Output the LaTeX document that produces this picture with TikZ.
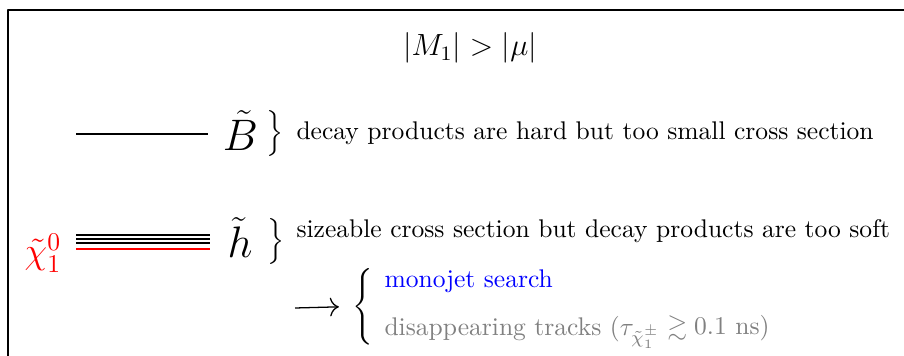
\documentclass[tikz,border=0pt]{standalone}
\usepackage{amsmath,amssymb}
\usetikzlibrary{arrows.meta}
\begin{document}
\begin{tikzpicture}[scale = 0.39,line join=bevel]
%%
\useasboundingbox (0bp,0bp) rectangle (904bp,356bp);
\clip (0bp,0bp) rectangle (904bp,356bp);
\draw [line width=0.8pt] (8bp,346bp) rectangle (940bp,-30bp);
\node (title) at (470bp,308bp) [draw=none] {\large $|M_1| > |\mu|$};
%
\coordinate (bino1) at (76bp,222bp);
  \coordinate (bino2) at (208bp,222bp);
  \node (bino) at (240.5bp,225.5bp) [draw=none] {\LARGE $\tilde{B}$};
  \node (binobrace) at (275.5bp,222.5bp) [draw=none,inner sep=0pt] {$\Big\}$};
  \node (binotext) at (296bp,216bp) [anchor=base west,inner sep=0pt] {decay products are hard but too small cross section};
%
\coordinate (hig1a) at (76bp,121bp);
  \coordinate (hig1b) at (210bp,121bp);
  \coordinate (hig2a) at (76bp,117bp);
  \coordinate (hig2b) at (210bp,117bp);
  \coordinate (hig3a) at (76bp,113bp);
  \coordinate (hig3b) at (210bp,113bp);
  \coordinate (lspa) at (76bp,107bp);
  \coordinate (lspb) at (210bp,107bp);
  \node (lsp) at (43bp,103bp) [draw=none,text=red] {\Large $\tilde{\chi}_1^0$};
  \node (hig) at (240bp,118.5bp) [draw=none] {\LARGE $\tilde{h}$};
  \node (higbrace) at (276bp,114.5bp) [draw=none,inner sep=0pt] {$\Big\}$};
  \node (higtext) at (296bp,119bp) [anchor=base west,inner sep=0pt] {sizeable cross section but decay products are too soft};
%
\coordinate (arrowtail) at (295bp,48bp);
  \node (split) at (364bp,49.5bp) [draw=none,inner sep=0pt] {$\left\{\rule[-11.5pt]{0pt}{28pt}\right.$};
  \node (monojet) at (384bp,69bp) [anchor=base west,inner sep=0pt,text=blue] {monojet search};
  \node (tracks) at (384bp,21bp) [anchor=base west,inner sep=0pt,text=gray] {disappearing tracks ($\tau_{\tilde{\chi}_1^\pm} \gtrsim 0.1$ ns)};
%
\draw [line width=0.5pt] (bino1) -- (bino2);
  \draw [line width=0.5pt] (hig1a) -- (hig1b);
  \draw [line width=0.5pt] (hig2a) -- (hig2b);
  \draw [line width=0.5pt] (hig3a) -- (hig3b);
  \draw [line width=0.5pt,red] (lspa) -- (lspb);
  \draw [-{To[scale=1.3]},line width=0.5pt,shorten >=5pt] (arrowtail) -- (split.west);
%
\end{tikzpicture}
\end{document}
